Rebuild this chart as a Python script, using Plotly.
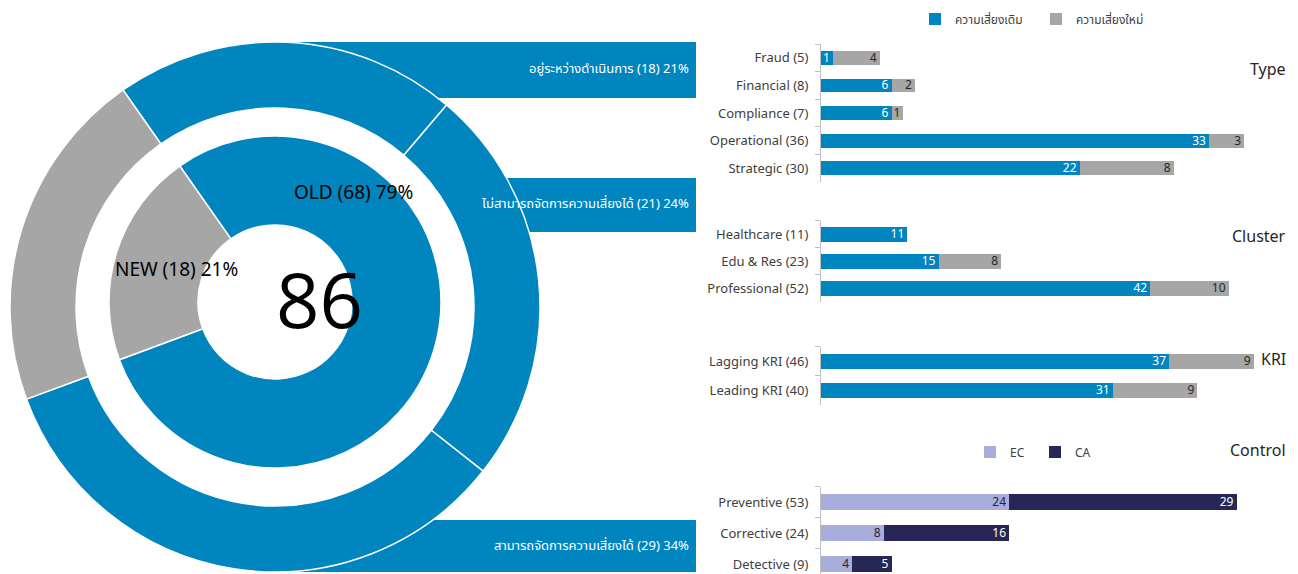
import plotly.graph_objects as go

# ---------------- data ----------------
status_labels = ["อยู่ระหว่างดำเนินการ", "ไม่สามารถจัดการความเสี่ยงได้", "สามารถจัดการความเสี่ยงได้"]
status_values = [18, 21, 29]
new_total = 18
old_total = sum(status_values)
grand_total = old_total + new_total

type_cats = ["Fraud", "Financial", "Compliance", "Operational", "Strategic"]
type_old = [1, 6, 6, 33, 22]
type_new = [4, 2, 1, 3, 8]

cluster_cats = ["Healthcare", "Edu & Res", "Professional"]
cluster_old = [11, 15, 42]
cluster_new = [0, 8, 10]

kri_cats = ["Lagging KRI", "Leading KRI"]
kri_old = [37, 31]
kri_new = [9, 9]

control_cats = ["Preventive", "Corrective", "Detective"]
control_ec = [24, 8, 4]
control_ca = [29, 16, 5]

series_names = ["ความเสี่ยงเดิม", "ความเสี่ยงใหม่"]
control_names = ["EC", "CA"]

# ---------------- style ----------------
W, H = 1298, 574
BLUE = "#0085BF"
GREY = "#A6A6A6"
EC_C = "#A9ADDC"
CA_C = "#262754"
TXT = "#404040"
FONT = "Tahoma, 'Noto Sans Thai', 'Liberation Sans', sans-serif"

def px_x(x):
    return x / W

def px_y(y):
    return 1 - y / H

fig = go.Figure()

# ---------------- donut (left) ----------------
fig.add_trace(go.Pie(
    values=status_values + [new_total],
    labels=status_labels + ["NEW"],
    marker=dict(colors=[BLUE, BLUE, BLUE, GREY], line=dict(color="white", width=1.5)),
    hole=199 / 265, sort=False, direction="clockwise", rotation=-35,
    textinfo="none", hoverinfo="label+value", showlegend=False,
    domain=dict(x=[px_x(275 - 265), px_x(275 + 265)], y=[px_y(307 + 265), px_y(307 - 265)]),
))
fig.add_trace(go.Pie(
    values=[old_total, new_total],
    labels=["OLD", "NEW"],
    marker=dict(colors=[BLUE, GREY], line=dict(color="white", width=1.5)),
    hole=77 / 166, sort=False, direction="clockwise", rotation=-35,
    textinfo="none", hoverinfo="label+value", showlegend=False,
    domain=dict(x=[px_x(275 - 166), px_x(275 + 166)], y=[px_y(302 + 166), px_y(302 - 166)]),
))

shapes = []
bands = [(275, 42, 696, 98), (505, 178, 696, 232), (275, 520, 696, 572)]
for x0, y0, x1, y1 in bands:
    shapes.append(dict(type="rect", xref="paper", yref="paper", x0=px_x(x0), x1=px_x(x1),
                       y0=px_y(y1), y1=px_y(y0), fillcolor=BLUE, line=dict(width=0), layer="below"))

annotations = []
band_text_y = [69, 204, 546]
for lab, v, ty in zip(status_labels, status_values, band_text_y):
    annotations.append(dict(text=f"{lab} ({v}) {round(100 * v / grand_total)}%", x=px_x(691), y=px_y(ty),
                            xref="paper", yref="paper", xanchor="right", yanchor="middle", showarrow=False,
                            font=dict(size=13, color="white", family=FONT)))
annotations.append(dict(text=f"OLD ({old_total}) {round(100 * old_total / grand_total)}%", x=px_x(292), y=px_y(193),
                        xref="paper", yref="paper", showarrow=False, font=dict(size=19, color="black", family=FONT)))
annotations.append(dict(text=f"NEW ({new_total}) {round(100 * new_total / grand_total)}%", x=px_x(113), y=px_y(270),
                        xref="paper", yref="paper", showarrow=False, font=dict(size=19, color="black", family=FONT)))
annotations.append(dict(text=str(grand_total), x=px_x(274), y=px_y(298), xref="paper", yref="paper",
                        showarrow=False, font=dict(size=76, color="black", family="'Open Sans', sans-serif")))

# ---------------- bars (right) ----------------
X0 = 821
X1 = 1292
groups = [
    # cats, a, b, colors, names, legend, px_per_unit, y_top, y_bottom, width, text colors, band px
    (type_cats, type_old, type_new, (BLUE, GREY), series_names, "legend", 11.76, 44, 182, 0.5, ("white", "#262626"), None),
    (cluster_cats, cluster_old, cluster_new, (BLUE, GREY), series_names, "legend", 7.84, 220.7, 301.7, 0.55, ("white", "#262626"), None),
    (kri_cats, kri_old, kri_new, (BLUE, GREY), series_names, "legend", 9.41, 346.7, 405, 0.52, ("white", "#262626"), None),
    (control_cats, control_ec, control_ca, (EC_C, CA_C), control_names, "legend2", 7.84, 486.7, 574, 0.52, ("#262626", "white"), 31),
]

layout_axes = {}
for i, (cats, a, b, cols, names, leg, ppu, yt, yb, wd, tcols, band) in enumerate(groups):
    n = "" if i == 0 else str(i + 1)
    labels = [f"{c} ({p + q})" for c, p, q in zip(cats, a, b)]
    show = i in (0, 3)
    for vals, col, nm, tc in zip((a, b), cols, names, tcols):
        fig.add_trace(go.Bar(
            y=labels, x=vals, orientation="h", name=nm, marker=dict(color=col, line=dict(width=0)),
            width=wd, text=[str(v) if v else "" for v in vals], textposition="inside", textangle=0,
            insidetextanchor="end", textfont=dict(size=12, color=tc, family=FONT),
            xaxis="x" + n, yaxis="y" + n, legend=leg, showlegend=show, hoverinfo="y+x",
        ))
    rng = (X1 - X0) / ppu
    layout_axes["xaxis" + n] = dict(domain=[px_x(X0), px_x(X1)], range=[0, rng], visible=False,
                                    anchor="y" + n, fixedrange=True)
    yax = dict(domain=[px_y(yb), px_y(yt)], anchor="x" + n, showline=True, linecolor="#BFBFBF",
               linewidth=1, ticks="outside", ticklen=5, tickcolor="#BFBFBF", tickson="boundaries",
               showgrid=False, zeroline=False, ticklabelstandoff=9,
               tickfont=dict(size=13, color=TXT, family=FONT), type="category",
               categoryorder="array", categoryarray=labels)
    if band:
        span = (yb - yt) / band
        yax["range"] = [-0.5 + span, -0.5]
    else:
        yax["autorange"] = "reversed"
    layout_axes["yaxis" + n] = yax

for txt, ty in [("Type", 70), ("Cluster", 237), ("KRI", 360), ("Control", 451)]:
    annotations.append(dict(text=txt, x=px_x(1288), y=px_y(ty), xref="paper", yref="paper", xanchor="right",
                            yanchor="middle", showarrow=False, font=dict(size=16, color="#262626", family=FONT)))

fig.update_layout(
    width=W, height=H, margin=dict(l=0, r=0, t=0, b=0),
    paper_bgcolor="white", plot_bgcolor="white",
    barmode="stack",
    shapes=shapes, annotations=annotations,
    font=dict(family=FONT, color=TXT),
    uniformtext=dict(minsize=12, mode="show"),
    legend=dict(orientation="h", x=px_x(915), y=px_y(19), xanchor="left", yanchor="middle",
                font=dict(size=12, color=TXT, family=FONT), bgcolor="rgba(0,0,0,0)", itemwidth=30,
                entrywidth=76, traceorder="normal"),
    legend2=dict(orientation="h", x=px_x(970), y=px_y(452), xanchor="left", yanchor="middle",
                 font=dict(size=12, color=TXT, family=FONT), bgcolor="rgba(0,0,0,0)", itemwidth=30,
                 entrywidth=20, traceorder="normal"),
    **layout_axes,
)

fig.write_html("out.html")
